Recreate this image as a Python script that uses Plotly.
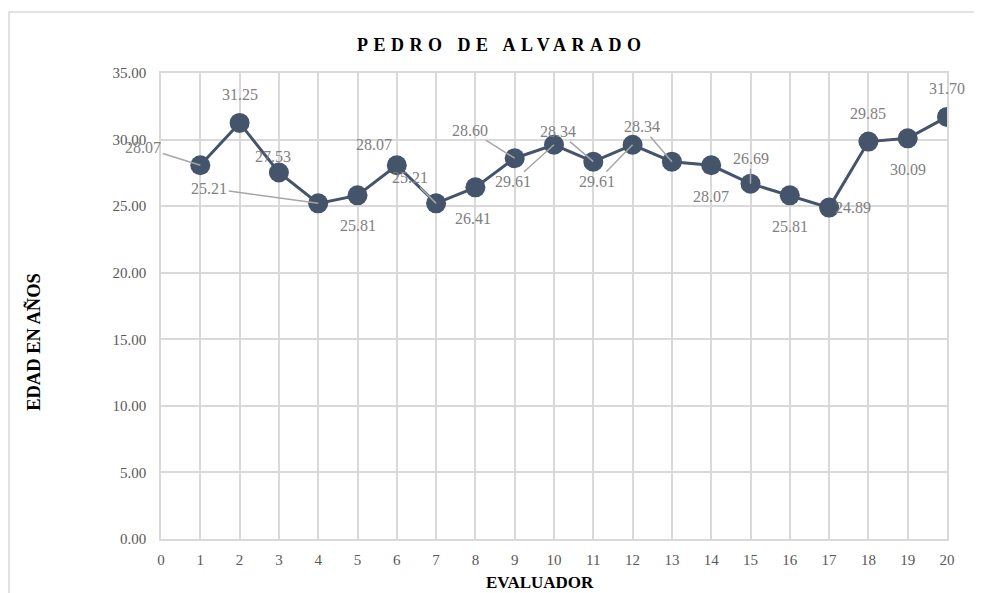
import plotly.graph_objects as go

# ---- data ----
evaluador = list(range(1, 21))
edad = [28.07, 31.25, 27.53, 25.21, 25.81, 28.07, 25.21, 26.41, 28.60, 29.61,
        28.34, 29.61, 28.34, 28.07, 26.69, 25.81, 24.89, 29.85, 30.09, 31.70]
title_text = "PEDRO DE ALVARADO"
x_title = "EVALUADOR"
y_title = "EDAD EN AÑOS"

# ---- label placement (pixel offsets from each point; style only) ----
lab_dx = [-57, 0, -6, -109, 0, -23, -26, -2, -45, -41, -35, -36, -30, 0, 0, 0, 24, 0, 0, 0]
lab_dy = [-18, -28, -16, -15, 30, -21, -26, 31, -28, 37, -30, 37, -35, 31, -25, 31, 0, -28, 31, -28]
leader = [1, 0, 0, 1, 0, 0, 1, 0, 1, 1, 1, 1, 1, 0, 1, 0, 0, 0, 0, 0]

SERIF = "Liberation Serif, Times New Roman, serif"
DARK = "#44546A"
LABEL = "#808080"
GRID = "#D9D9D9"

fig = go.Figure()
fig.add_trace(go.Scatter(
    x=evaluador, y=edad, mode="lines+markers",
    line=dict(color=DARK, width=3),
    marker=dict(color=DARK, size=20),
    hoverinfo="skip", showlegend=False,
))

annotations = []
for xv, yv, dx, dy, ld in zip(evaluador, edad, lab_dx, lab_dy, leader):
    txt = f"{yv:.2f}"
    if ld:
        annotations.append(dict(
            x=xv, y=yv, xref="x", yref="y", text=txt,
            showarrow=True, arrowhead=0, arrowwidth=1.5, arrowcolor="#A6A6A6",
            ax=dx, ay=dy, standoff=0,
            font=dict(family=SERIF, size=16, color=LABEL),
        ))
    else:
        annotations.append(dict(
            x=xv, y=yv, xref="x", yref="y", text=txt, showarrow=False,
            xshift=dx, yshift=-dy,
            font=dict(family=SERIF, size=16, color=LABEL),
        ))

annotations.append(dict(
    x=0.434, y=1.060, xref="paper", yref="paper", showarrow=False,
    text=f'<span style="letter-spacing:5.5px"><b>{title_text}</b></span>',
    font=dict(family=SERIF, size=18, color="#000000"),
    xanchor="center", yanchor="middle",
))
annotations.append(dict(
    x=0.482, y=-0.094, xref="paper", yref="paper", showarrow=False,
    text=f"<b>{x_title}</b>",
    font=dict(family=SERIF, size=17, color="#000000"),
    xanchor="center", yanchor="middle",
))
annotations.append(dict(
    x=-0.1616, y=0.423, xref="paper", yref="paper", showarrow=False,
    text=f"<b>{y_title}</b>", textangle=-90,
    font=dict(family=SERIF, size=18.5, color="#000000"),
    xanchor="center", yanchor="middle",
))

fig.update_layout(
    width=974, height=585,
    margin=dict(l=153, r=35, t=65, b=54),
    paper_bgcolor="white", plot_bgcolor="white",
    annotations=annotations,
    shapes=[dict(type="rect", xref="paper", yref="paper",
                 x0=-0.1934, x1=1.06, y0=-0.14, y1=1.131,
                 line=dict(color=GRID, width=1.5), layer="below")],
    xaxis=dict(range=[0, 20], dtick=1, tick0=0, showgrid=True, gridcolor=GRID,
               gridwidth=1.5, zeroline=False, showline=True, linecolor=GRID,
               linewidth=1.5, mirror=True,
               tickfont=dict(family=SERIF, size=15, color="#595959"),
               ticks="outside", ticklen=6, tickcolor="rgba(0,0,0,0)"),
    yaxis=dict(range=[0, 35], dtick=5, tick0=0, tickformat=".2f", showgrid=True,
               gridcolor=GRID, gridwidth=1.5, zeroline=False, showline=True,
               linecolor=GRID, linewidth=1.5, mirror=True,
               tickfont=dict(family=SERIF, size=15, color="#595959"),
               ticks="outside", ticklen=10, tickcolor="rgba(0,0,0,0)"),
)

fig.write_html("out.html")
